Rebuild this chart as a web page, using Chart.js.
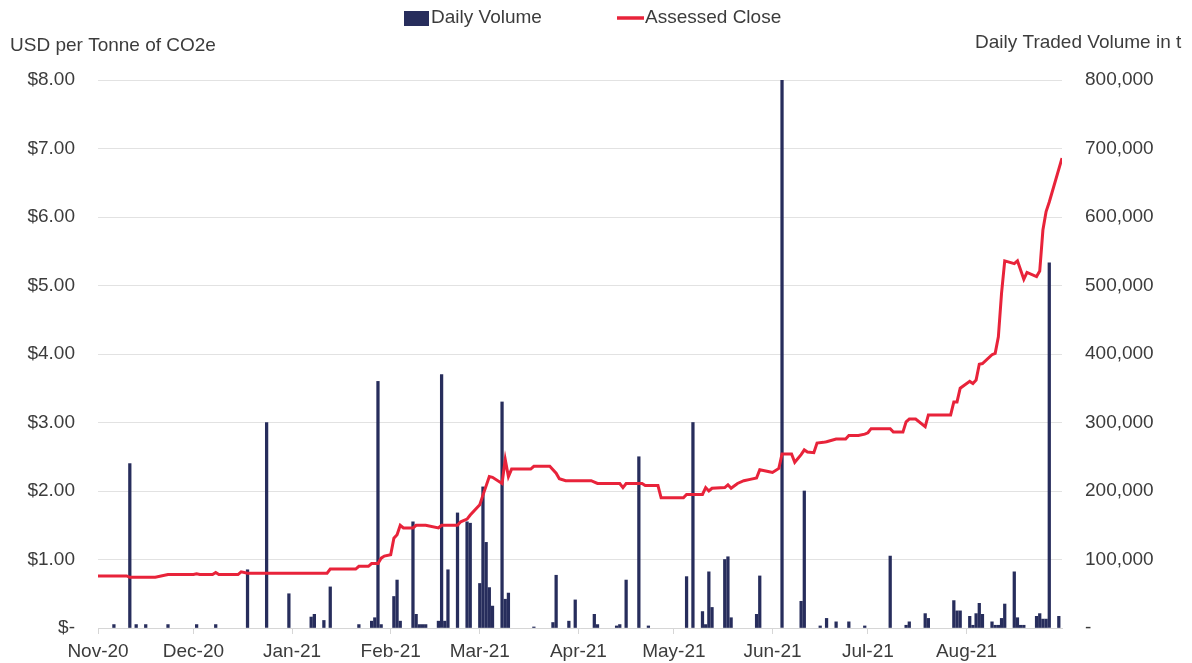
<!DOCTYPE html>
<html>
<head>
<meta charset="utf-8">
<script src="https://cdn.jsdelivr.net/npm/chart.js@4"></script>
<style>
  html, body { margin: 0; padding: 0; background: #fff; }
  #wrap { position: relative; width: 1192px; height: 663px; }
</style>
</head>
<body>
<div id="wrap"><canvas id="co2Chart"></canvas></div>
<script>
// day 0 = 1 Nov 2020
const monthDays = [0, 30, 61, 92, 120, 151, 181, 212, 242, 273];
const monthLabels = ['Nov-20', 'Dec-20', 'Jan-21', 'Feb-21', 'Mar-21', 'Apr-21', 'May-21', 'Jun-21', 'Jul-21', 'Aug-21'];

// daily traded volume (t)
const volDays = [5, 10, 12, 15, 22, 31, 37, 47, 53, 60, 67, 68, 71, 73, 82, 86, 87, 88, 89, 93, 94, 95,
  99, 100, 101, 102, 103, 107, 108, 109, 110, 113, 116, 117, 120, 121, 122, 123, 124, 127, 128, 129,
  137, 143, 144, 148, 150, 156, 157, 163, 164, 166, 170, 173, 185, 187, 190, 191, 192, 193, 197, 198,
  199, 207, 208, 215, 221, 222, 227, 229, 232, 236, 241, 249, 254, 255, 260, 261, 269, 270, 271, 274,
  275, 276, 277, 278, 281, 282, 283, 284, 285, 288, 289, 290, 291, 295, 296, 297, 298, 299, 302];
const volValues = [5000, 240000, 5000, 5000, 5000, 5000, 5000, 85000, 300000, 50000, 16000, 20000, 11000, 60000,
  5000, 10000, 15000, 360000, 5000, 46000, 70000, 10000,
  155000, 20000, 5000, 5000, 5000, 10000, 370000, 10000, 85000, 168000, 155000, 153000, 65000, 206000, 125000, 59000, 32000, 330000, 42000, 51000,
  1500, 8000, 77000, 10000, 41000, 20000, 5000, 3000, 5000, 70000, 250000, 3000, 75000, 300000, 24000, 5000, 82000, 30000, 100000, 104000,
  15000, 20000, 76000, 800000, 39000, 200000, 3000, 14000, 9000, 9000, 3000, 105000, 4000, 9000, 21000, 14000, 40000, 25000, 25000, 17000,
  4000, 21000, 36000, 20000, 9000, 4000, 4000, 14000, 35000, 82000, 15000, 4000, 4000, 17000, 21000, 13000, 13000, 533000, 17000];

// assessed close (USD per tonne)
const closeDays = [0, 9, 10, 18, 22, 30, 31, 32, 36, 37, 38, 44, 45, 47, 72, 73, 81, 82, 85, 86, 88, 89, 90, 92,
  93, 94, 95, 96, 99, 100, 103, 107, 108, 113, 114, 116, 117, 120, 121, 123, 124, 127, 128, 129, 130, 136,
  137, 142, 144, 145, 147, 155, 157, 164, 165, 166, 171, 172, 176, 177, 184, 185, 190, 191, 192, 193, 197,
  198, 199, 201, 203, 205, 207, 208, 211, 212, 214, 215, 218, 219, 221, 222, 223, 225, 226, 228, 229, 232,
  235, 236, 239, 241, 242, 243, 249, 250, 253, 254, 255, 257, 260, 261, 268, 269, 270, 271, 274, 275, 276,
  277, 278, 281, 282, 283, 284, 285, 288, 289, 291, 292, 295, 296, 297, 298, 299, 303];
const closeValues = [0.76, 0.76, 0.74, 0.74, 0.78, 0.78, 0.79, 0.78, 0.78, 0.81, 0.78, 0.78, 0.82, 0.80, 0.80, 0.86, 0.86, 0.90, 0.90, 0.94, 0.94, 1.02, 1.05, 1.07,
  1.31, 1.36, 1.50, 1.46, 1.46, 1.50, 1.50, 1.46, 1.50, 1.50, 1.55, 1.59, 1.65, 1.80, 1.94, 2.21, 2.20, 2.11, 2.46, 2.21, 2.32, 2.32,
  2.36, 2.36, 2.26, 2.18, 2.15, 2.15, 2.11, 2.11, 2.05, 2.11, 2.11, 2.08, 2.08, 1.90, 1.90, 1.95, 1.95, 2.05, 2.00, 2.04, 2.05,
  2.09, 2.04, 2.11, 2.15, 2.17, 2.19, 2.31, 2.28, 2.27, 2.33, 2.54, 2.54, 2.42, 2.53, 2.60, 2.57, 2.56, 2.70, 2.71, 2.72, 2.76,
  2.76, 2.81, 2.81, 2.83, 2.85, 2.91, 2.91, 2.86, 2.86, 3.01, 3.05, 3.05, 2.94, 3.11, 3.11, 3.30, 3.30, 3.50, 3.60, 3.57, 3.62,
  3.85, 3.86, 3.99, 4.01, 4.25, 4.89, 5.36, 5.32, 5.36, 5.09, 5.19, 5.13, 5.21, 5.81, 6.08, 6.22, 6.86];

const NAVY = '#272d5c';
const RED = '#e8233a';
const TEXT = '#3c3c3c';
const FONT = 'Liberation Sans, Arial, sans-serif';

// legend + axis titles drawn above the plot
const headerPlugin = {
    id: 'header',
    afterDraw(chart) {
        const ctx = chart.ctx;
        ctx.save();
        ctx.font = '19px ' + FONT;
        ctx.textBaseline = 'middle';
        ctx.textAlign = 'left';

        ctx.fillStyle = NAVY;
        ctx.fillRect(404, 11, 25, 15);
        ctx.fillStyle = TEXT;
        ctx.fillText('Daily Volume', 431, 18);

        ctx.strokeStyle = RED;
        ctx.lineWidth = 3.5;
        ctx.beginPath();
        ctx.moveTo(617, 18);
        ctx.lineTo(644, 18);
        ctx.stroke();
        ctx.fillText('Assessed Close', 645, 18);

        ctx.fillText('USD per Tonne of CO2e', 10, 46);
        ctx.fillText('Daily Traded Volume in t', 975, 43);
        ctx.restore();
    }
};

const ctx = document.getElementById('co2Chart').getContext('2d');
new Chart(ctx, {
    type: 'bar',
    data: {
        datasets: [
            {
                type: 'line',
                label: 'Assessed Close',
                data: closeDays.map((d, i) => ({ x: d, y: closeValues[i] })),
                borderColor: RED,
                borderWidth: 3,
                pointRadius: 0,
                tension: 0,
                yAxisID: 'y',
                order: 0
            },
            {
                type: 'bar',
                label: 'Daily Volume',
                data: volDays.map((d, i) => ({ x: d, y: volValues[i] })),
                backgroundColor: NAVY,
                barThickness: 2.6,
                yAxisID: 'y1',
                order: 1
            }
        ]
    },
    options: {
        responsive: true,
        maintainAspectRatio: false,
        animation: false,
        layout: { padding: { top: 80, left: 0, right: 0, bottom: 0 } },
        plugins: {
            legend: { display: false },
            tooltip: { enabled: false }
        },
        scales: {
            x: {
                type: 'linear',
                min: 0,
                max: 303,
                offset: false,
                afterBuildTicks: (scale) => {
                    scale.ticks = monthDays.map(v => ({ value: v }));
                },
                afterFit: (scale) => { scale.height = 35; },
                grid: {
                    offset: false,
                    drawOnChartArea: false,
                    drawTicks: true,
                    tickLength: 6,
                    color: '#d6d6d6'
                },
                border: { display: true, color: '#d6d6d6' },
                ticks: {
                    autoSkip: false,
                    maxRotation: 0,
                    padding: 6,
                    color: TEXT,
                    font: { family: FONT, size: 19 },
                    callback: (v) => monthLabels[monthDays.indexOf(v)]
                }
            },
            y: {
                position: 'left',
                min: 0,
                max: 8,
                afterFit: (scale) => { scale.width = 98; },
                grid: { color: '#e2e2e2', drawTicks: false },
                border: { display: false },
                ticks: {
                    stepSize: 1,
                    padding: 23,
                    color: TEXT,
                    font: { family: FONT, size: 19 },
                    callback: (v) => v === 0 ? '$-' : '$' + v.toFixed(2)
                }
            },
            y1: {
                position: 'right',
                min: 0,
                max: 800000,
                afterFit: (scale) => { scale.width = 130; },
                grid: { drawOnChartArea: false, drawTicks: false },
                border: { display: false },
                ticks: {
                    stepSize: 100000,
                    padding: 23,
                    color: TEXT,
                    font: { family: FONT, size: 19 },
                    callback: (v) => v === 0 ? '-' : v.toLocaleString('en-US')
                }
            }
        }
    },
    plugins: [headerPlugin]
});
</script>
</body>
</html>
